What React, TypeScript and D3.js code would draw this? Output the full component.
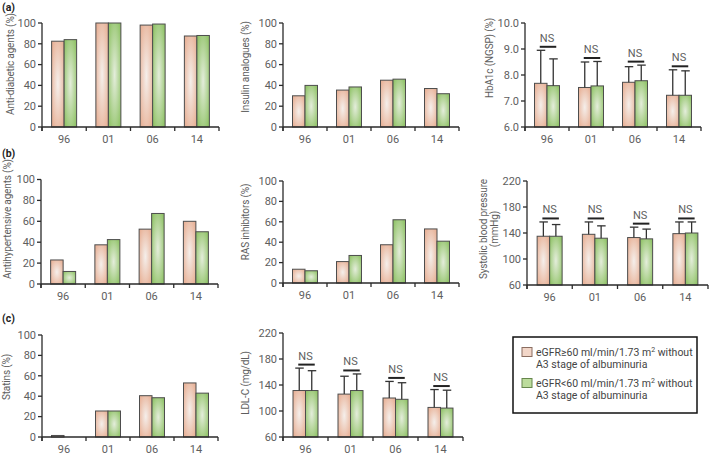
import React from "react";
import * as d3 from "d3";

const years = ["96", "01", "06", "14"];

// (a) anti-diabetic treatment
const antiDiabeticHigh = [82.5, 100, 98, 87.5];
const antiDiabeticLow = [84, 100, 99, 88];
const insulinHigh = [30, 35.5, 45, 37];
const insulinLow = [40, 38.5, 46, 32];
const hba1cHigh = [7.68, 7.52, 7.72, 7.22];
const hba1cHighUpper = [8.95, 8.5, 8.32, 8.2];
const hba1cLow = [7.59, 7.58, 7.78, 7.22];
const hba1cLowUpper = [8.62, 8.52, 8.38, 8.16];

// (b) blood pressure
const antihypertensiveHigh = [23, 37.5, 52.5, 60];
const antihypertensiveLow = [12, 42.5, 67.5, 50];
const rasHigh = [13.5, 21, 37.5, 53];
const rasLow = [12, 27, 62, 41];
const sbpHigh = [135, 138, 133, 139];
const sbpHighUpper = [157, 157, 149, 157];
const sbpLow = [135, 132, 131, 140];
const sbpLowUpper = [153, 151, 146, 157];

// (c) lipids
const statinsHigh = [1.5, 25.5, 40.5, 53];
const statinsLow = [0, 25.5, 38.5, 43];
const ldlHigh = [131.5, 126, 120, 105.5];
const ldlHighUpper = [166, 153.5, 145.5, 133];
const ldlLow = [131.5, 131.5, 118, 104.5];
const ldlLowUpper = [162, 157, 143.5, 132];

const pctTicks = [0, 20, 40, 60, 80, 100];
const hba1cTicks = [6, 7, 8, 9, 10];
const mmTicks = [60, 100, 140, 180, 220];

const legendHigh = ["eGFR≥60 ml/min/1.73 m", " without", "A3 stage of albuminuria"];
const legendLow = ["eGFR<60 ml/min/1.73 m", " without", "A3 stage of albuminuria"];

const FONT = "Roboto, 'Open Sans', sans-serif";
const GRAY = "#5e5e5e";
const AXIS = "#2a2a2a";

interface Panel {
  title: string[];
  high: number[];
  low: number[];
  highUpper?: number[];
  lowUpper?: number[];
  domain: [number, number];
  ticks: number[];
  fmt: (v: number) => string;
  x0: number;
  x1: number;
  yTop: number;
  yBot: number;
  tx: number;
  ty: number;
}

const pct = (v: number) => String(v);

const panels: Panel[] = [
  { title: ["Anti-diabetic agents (%)"], high: antiDiabeticHigh, low: antiDiabeticLow, domain: [0, 100], ticks: pctTicks, fmt: pct, x0: 42, x1: 219, yTop: 23, yBot: 127, tx: 10, ty: 64 },
  { title: ["Insulin analogues (%)"], high: insulinHigh, low: insulinLow, domain: [0, 100], ticks: pctTicks, fmt: pct, x0: 283, x1: 459, yTop: 23, yBot: 127, tx: 245, ty: 67 },
  { title: ["HbA1c (NGSP) (%)"], high: hba1cHigh, low: hba1cLow, highUpper: hba1cHighUpper, lowUpper: hba1cLowUpper, domain: [6, 10], ticks: hba1cTicks, fmt: (v) => v.toFixed(1), x0: 525, x1: 701, yTop: 23, yBot: 127, tx: 489, ty: 58 },
  { title: ["Antihypertensive agents (%)"], high: antihypertensiveHigh, low: antihypertensiveLow, domain: [0, 100], ticks: pctTicks, fmt: pct, x0: 41, x1: 218, yTop: 179.5, yBot: 284, tx: 7, ty: 219 },
  { title: ["RAS inhibitors (%)"], high: rasHigh, low: rasLow, domain: [0, 100], ticks: pctTicks, fmt: pct, x0: 283, x1: 459, yTop: 181, yBot: 283, tx: 245, ty: 222 },
  { title: ["Systolic blood pressure", "(mmHg)"], high: sbpHigh, low: sbpLow, highUpper: sbpHighUpper, lowUpper: sbpLowUpper, domain: [60, 220], ticks: mmTicks, fmt: pct, x0: 527, x1: 708, yTop: 181, yBot: 285, tx: 483.5, ty: 229 },
  { title: ["Statins (%)"], high: statinsHigh, low: statinsLow, domain: [0, 100], ticks: pctTicks, fmt: pct, x0: 42, x1: 218, yTop: 335, yBot: 437, tx: 6, ty: 377 },
  { title: ["LDL-C (mg/dL)"], high: ldlHigh, low: ldlLow, highUpper: ldlHighUpper, lowUpper: ldlLowUpper, domain: [60, 220], ticks: mmTicks, fmt: pct, x0: 283, x1: 463, yTop: 333, yBot: 437, tx: 245, ty: 383 },
];

function BarPanel({ p }: { p: Panel }) {
  const x = d3.scaleBand().domain(years).range([p.x0, p.x1]);
  const y = d3.scaleLinear().domain(p.domain).range([p.yBot, p.yTop]);
  const bw = 12.5;
  const hasErr = !!p.highUpper;
  const bounds = [p.x0, ...years.map((yr) => (x(yr) as number) + x.bandwidth())];

  return (
    <g>
      {/* bars */}
      {years.map((yr, i) => {
        const c = (x(yr) as number) + x.bandwidth() / 2;
        const bars = [
          { v: p.high[i], left: c - bw, fill: "url(#gPink)", up: p.highUpper?.[i] },
          { v: p.low[i], left: c, fill: "url(#gGreen)", up: p.lowUpper?.[i] },
        ];
        return (
          <g key={yr}>
            {bars.map((b, j) =>
              b.v > 0 ? (
                <rect key={j} x={b.left} y={y(b.v)} width={bw} height={p.yBot - y(b.v)}
                  fill={b.fill} stroke="#4d4d4d" strokeWidth={1} />
              ) : null
            )}
            {hasErr &&
              bars.map((b, j) => {
                const ex = b.left + bw / 2;
                return (
                  <g key={"e" + j} stroke="#333" strokeWidth={1.3}>
                    <line x1={ex} x2={ex} y1={y(b.v)} y2={y(b.up as number)} />
                    <line x1={ex - 4} x2={ex + 4.5} y1={y(b.up as number)} y2={y(b.up as number)} />
                  </g>
                );
              })}
            {hasErr && (() => {
              const top = y(Math.max(bars[0].up as number, bars[1].up as number)) - 3.5;
              return (
                <g>
                  <line x1={c - bw / 2 - 1} x2={c + bw / 2 + 3} y1={top} y2={top} stroke="#222" strokeWidth={2} />
                  <text x={c} y={top - 5} textAnchor="middle" fontSize={11} fill={GRAY} fontFamily={FONT}>NS</text>
                </g>
              );
            })()}
          </g>
        );
      })}
      {/* y axis */}
      <line x1={p.x0} x2={p.x0} y1={p.yTop} y2={p.yBot + 4} stroke={AXIS} strokeWidth={1.3} />
      {p.ticks.map((t) => (
        <g key={t}>
          <line x1={p.x0 - 4} x2={p.x0} y1={y(t)} y2={y(t)} stroke={AXIS} strokeWidth={1.3} />
          <text x={p.x0 - 6} y={y(t)} dy="0.35em" textAnchor="end" fontSize={11} fill={GRAY} fontFamily={FONT}>
            {p.fmt(t)}
          </text>
        </g>
      ))}
      {/* x axis */}
      <line x1={p.x0} x2={p.x1} y1={p.yBot} y2={p.yBot} stroke={AXIS} strokeWidth={1.3} />
      {bounds.map((b, i) => (
        <line key={i} x1={b} x2={b} y1={p.yBot} y2={p.yBot + 4} stroke={AXIS} strokeWidth={1.3} />
      ))}
      {years.map((yr) => (
        <text key={yr} x={(x(yr) as number) + x.bandwidth() / 2} y={p.yBot + 16} textAnchor="middle"
          fontSize={11} fill={GRAY} fontFamily={FONT}>
          {yr}
        </text>
      ))}
      {/* y title */}
      {p.title.map((line, i) => (
        <text key={i} transform={`translate(${p.tx + i * 10.5},${p.ty}) rotate(-90)`} textAnchor="middle"
          dy="0.35em" fontSize={10} letterSpacing={-0.15} fill={GRAY} fontFamily={FONT}>
          {line}
        </text>
      ))}
    </g>
  );
}

function LegendEntry({ y0, fill, stroke, lines }: { y0: number; fill: string; stroke: string; lines: string[] }) {
  return (
    <g>
      <rect x={522} y={y0 - 8} width={10} height={9} fill={fill} stroke={stroke} strokeWidth={1} />
      <text x={536} y={y0} fontSize={10.5} fill="#444" fontFamily={FONT}>
        {lines[0]}
        <tspan fontSize={7} dy={-4}>2</tspan>
        <tspan dy={4}>{lines[1]}</tspan>
      </text>
      <text x={536} y={y0 + 12} fontSize={10.5} fill="#444" fontFamily={FONT}>
        {lines[2]}
      </text>
    </g>
  );
}

export default function App() {
  return (
    <div style={{ position: "fixed", left: 0, top: 0 }}>
      <svg width={709} height={458} style={{ display: "block", background: "#fff" }}>
        <defs>
          <radialGradient id="gPink" cx="0.5" cy="0.5" r="0.62">
            <stop offset="0" stopColor="#f5efeb" />
            <stop offset="1" stopColor="#e8b298" />
          </radialGradient>
          <radialGradient id="gGreen" cx="0.5" cy="0.5" r="0.62">
            <stop offset="0" stopColor="#e4eddb" />
            <stop offset="1" stopColor="#92c46a" />
          </radialGradient>
        </defs>
        <text x={2} y={11} fontSize={10.5} fontWeight="bold" fill="#222" fontFamily={FONT}>(a)</text>
        <text x={2} y={157} fontSize={10.5} fontWeight="bold" fill="#222" fontFamily={FONT}>(b)</text>
        <text x={2} y={322} fontSize={10.5} fontWeight="bold" fill="#222" fontFamily={FONT}>(c)</text>
        {panels.map((p, i) => (
          <BarPanel key={i} p={p} />
        ))}
        <rect x={513} y={337} width={184} height={76} fill="#fff" stroke="#111" strokeWidth={1.5} />
        <LegendEntry y0={355.5} fill="#f2d6c8" stroke="#8a6d60" lines={legendHigh} />
        <LegendEntry y0={386.5} fill="#bcdc9c" stroke="#66864c" lines={legendLow} />
      </svg>
    </div>
  );
}
